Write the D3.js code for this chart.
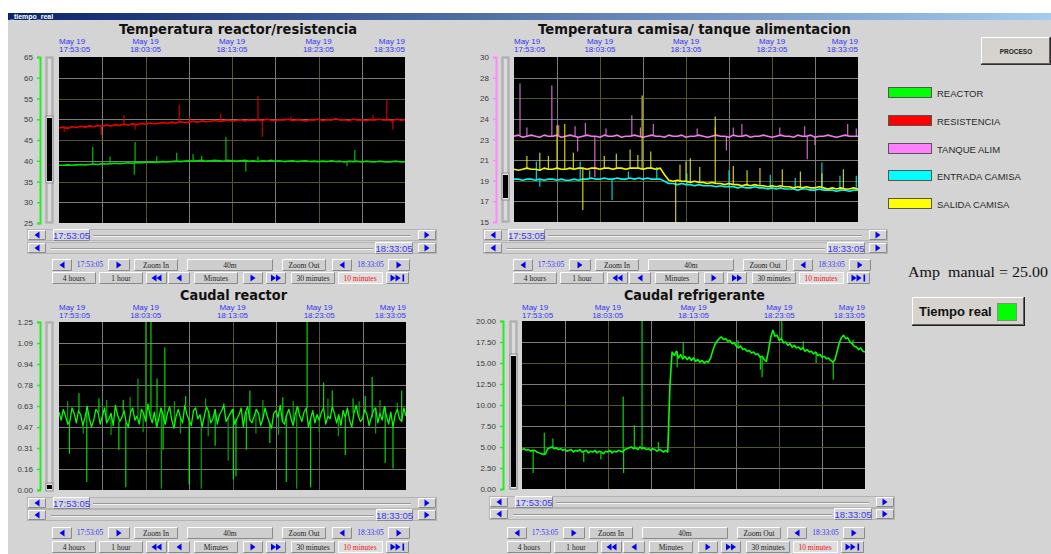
<!DOCTYPE html>
<html>
<head>
<meta charset="utf-8">
<title>tiempo_real</title>
<script src="https://cdn.jsdelivr.net/npm/d3@7"></script>
<style>
html, body { margin: 0; padding: 0; background: #fff; }
svg { display: block; }
</style>
</head>
<body>
<svg id="screen" width="1051" height="554"></svg>
<script>
"use strict";

// ---- data (minutes after 17:53:05) ----
var timeMinutes = [0, 10, 20, 30, 40];
var timeLabels = ["17:53:05", "18:03:05", "18:13:05", "18:23:05", "18:33:05"];
var dateLabel = "May 19";

// Temperatura reactor / resistencia, one sample every 0.5 min
var reactorTempTicks = ["65", "60", "55", "50", "45", "40", "35", "30", "25"];
var resistTemp = [
	47.9, 48.1, 47.8, 48.2, 48.0, 48.3, 48.1, 48.4, 48.2, 48.5, 48.3,
	48.6, 48.4, 48.7, 48.5, 48.8, 48.6, 48.9, 48.7, 49.0, 48.8,
	49.1, 48.9, 49.0, 49.2, 49.0, 49.3, 49.1, 49.4, 49.2, 49.3,
	49.5, 49.3, 49.6, 49.4, 49.5, 49.7, 49.5, 49.6, 49.8, 49.6,
	49.7, 49.9, 49.6, 49.8, 49.7, 49.9, 49.7, 50.0, 49.8, 49.7,
	49.9, 49.8, 50.0, 49.7, 49.9, 49.8, 49.6, 49.9, 49.8, 50.0,
	49.7, 49.9, 49.8, 50.1, 49.8, 49.9, 49.7, 50.0, 49.8, 49.9,
	49.7, 49.9, 49.8, 50.0, 49.8, 49.9, 49.7, 50.0, 49.8, 49.9
];
var reactorTemp = [
	38.9, 38.9, 39.0, 38.9, 39.0, 39.1, 39.0, 39.1, 39.2, 39.1, 39.3,
	39.2, 39.3, 39.4, 39.3, 39.4, 39.5, 39.4, 39.6, 39.5, 39.6,
	39.7, 39.6, 39.7, 39.8, 39.7, 39.8, 39.9, 39.8, 39.9, 40.0,
	39.9, 40.0, 40.1, 39.9, 40.0, 40.1, 40.0, 39.9, 40.1, 40.0,
	39.9, 40.0, 40.1, 39.9, 40.0, 39.8, 40.0, 39.9, 40.1, 39.9,
	40.0, 39.8, 39.9, 40.0, 39.8, 39.9, 40.0, 39.8, 39.9, 39.8,
	39.9, 39.8, 40.0, 39.8, 39.9, 39.7, 39.9, 39.8, 39.9, 39.7,
	39.9, 39.8, 39.7, 39.9, 39.8, 39.7, 39.8, 39.9, 39.7, 39.8
];
var resistSpikes = [[13.9, 53.5], [23.0, 55.6], [37.9, 54.6], [36.3, 51.0], [7.5, 51.0], [15.1, 50.8],
	[18.7, 51.3], [26.8, 50.7], [4.9, 46.2], [8.8, 47.5], [23.5, 45.8], [38.6, 47.5], [0.6, 47.0]];
var reactorSpikes = [[3.9, 43.3], [8.8, 44.5], [8.7, 36.6], [13.6, 41.9], [15.5, 41.6], [19.3, 45.7],
	[21.6, 37.4], [23.0, 41.0], [34.2, 42.6], [33.3, 38.7], [16.5, 41.2], [5.9, 41.0], [11.3, 41.1]];

// Temperatura camisa / tanque alimentacion
var jacketTicks = ["30", "28", "26", "24", "23", "21", "19", "17", "15"];
var feedTankTemp = [
	22.8, 22.9, 22.7, 22.8, 22.9, 22.8, 22.7, 22.9, 22.8, 22.8,
	22.9, 22.7, 22.8, 22.9, 22.8, 22.7, 22.8, 22.9, 22.8, 22.8,
	22.7, 22.9, 22.8, 22.8, 22.9, 22.7, 22.8, 22.8, 22.9, 22.8,
	22.7, 22.8, 22.9, 22.8, 22.8, 22.7, 22.9, 22.8, 22.8, 22.9,
	22.7, 22.8, 22.8, 22.9, 22.8, 22.7, 22.8, 22.9, 22.8, 22.8,
	22.7, 22.9, 22.8, 22.8, 22.9, 22.7, 22.8, 22.8, 22.9, 22.8,
	22.7, 22.8, 22.9, 22.8, 22.8, 22.7, 22.9, 22.8, 22.8, 22.9,
	22.7, 22.8, 22.8, 22.9, 22.8, 22.7, 22.8, 22.9, 22.8, 22.8, 22.8
];
var jacketInTemp = [
	18.9, 18.9, 18.8, 18.9, 18.9, 18.8, 18.9, 18.8, 18.9, 18.9,
	18.8, 18.9, 18.8, 18.8, 18.9, 18.8, 18.9, 18.9, 19.0, 18.9,
	18.9, 19.0, 18.9, 18.9, 19.0, 18.9, 18.9, 19.0, 18.9, 19.0,
	18.9, 19.0, 18.9, 18.9, 18.9, 18.7,
	18.5, 18.5, 18.4, 18.5,
	18.4, 18.4, 18.3, 18.4, 18.3, 18.3, 18.3, 18.2, 18.3, 18.2,
	18.2, 18.2, 18.1, 18.2, 18.1, 18.1, 18.2, 18.1, 18.1, 18.0,
	18.1, 18.0, 18.1, 18.0, 18.0, 18.0, 17.9, 18.0, 18.0, 17.9,
	17.9, 18.0, 17.9, 17.9, 17.9, 17.8, 17.9, 17.9, 17.8, 17.9, 17.9
];
var jacketOutTemp = [
	19.8, 19.7, 19.8, 19.9, 19.8, 19.8, 19.7, 19.9, 19.8, 19.8,
	19.9, 19.8, 19.8, 19.9, 19.8, 19.9, 19.9, 19.8, 19.9, 19.9,
	19.8, 19.9, 19.9, 19.8, 19.9, 19.9, 19.8, 19.9, 19.9, 19.9,
	19.8, 19.9, 19.9, 19.8, 19.9, 19.3,
	18.8, 18.7, 18.8, 18.7,
	18.7, 18.6, 18.7, 18.6, 18.6, 18.5, 18.6, 18.5, 18.5, 18.4,
	18.5, 18.4, 18.4, 18.3, 18.4, 18.3, 18.4, 18.3, 18.3, 18.2,
	18.3, 18.2, 18.3, 18.2, 18.2, 18.1, 18.2, 18.1, 18.2, 18.1,
	18.1, 18.2, 18.1, 18.0, 18.1, 18.0, 18.1, 18.0, 18.0, 18.1, 18.0
];
var feedTankSpikes = [[0.7, 27.6], [4.4, 27.4], [13.7, 24.7], [1.5, 23.6], [5.2, 23.8], [7.1, 23.7],
	[8.3, 24.0], [10.7, 23.5], [14.7, 23.6], [16.2, 23.9], [21.3, 23.5], [23.4, 23.6], [25.5, 23.6],
	[26.5, 23.9], [30.9, 23.6], [33.8, 23.7], [38.8, 23.9], [39.8, 23.5],
	[7.4, 21.4], [9.4, 19.1], [24.7, 21.5], [34.1, 20.7], [35.0, 22.0]];
var jacketInSpikes = [[2.6, 20.5], [3.0, 18.2], [7.7, 20.5], [8.8, 19.7], [11.4, 17.0], [13.3, 19.6],
	[16.6, 20.0], [20.1, 19.4], [25.0, 19.7], [29.8, 19.3], [32.7, 19.0], [35.8, 20.4], [37.9, 19.2], [39.8, 19.2]];
var jacketOutSpikes = [[5.0, 23.8], [5.9, 23.9], [14.9, 26.5], [23.4, 24.6], [8.0, 16.1], [18.8, 15.0],
	[1.5, 21.0], [3.0, 21.3], [4.0, 21.0], [6.9, 21.3], [10.5, 21.0], [11.9, 21.2], [13.5, 21.6],
	[14.4, 21.1], [15.9, 21.4], [19.3, 20.2], [20.0, 20.5], [20.5, 20.8], [21.6, 20.0], [25.5, 20.1],
	[27.1, 19.7], [28.6, 19.9], [31.2, 19.8], [33.3, 19.6], [35.8, 19.4], [38.3, 19.8]];

// Caudal reactor, one sample every 0.25 min
var reactorFlowTicks = ["1.25", "1.09", "0.94", "0.78", "0.63", "0.47", "0.31", "0.16", "0.00"];
var reactorFlow = [
	0.58, 0.52, 0.60, 0.55, 0.49, 0.51, 0.61, 0.57, 0.50, 0.59, 0.56, 0.48, 0.54, 0.62, 0.53, 0.47, 0.52, 0.60, 0.58, 0.49,
	0.55, 0.61, 0.50, 0.53, 0.57, 0.48, 0.63, 0.56, 0.51, 0.54, 0.59, 0.50, 0.47, 0.58, 0.61, 0.52, 0.55, 0.49, 0.60, 0.57,
	0.51, 0.64, 0.55, 0.50, 0.58, 0.47, 0.53, 0.61, 0.56, 0.49, 0.57, 0.62, 0.52, 0.46, 0.55, 0.60, 0.54, 0.50, 0.63, 0.56,
	0.52, 0.48, 0.59, 0.61, 0.53, 0.56, 0.47, 0.55, 0.62, 0.58, 0.50, 0.53, 0.60, 0.49, 0.56, 0.59, 0.63, 0.51, 0.54, 0.57,
	0.60, 0.49, 0.53, 0.56, 0.61, 0.47, 0.58, 0.62, 0.52, 0.50, 0.55, 0.60, 0.57, 0.48, 0.53, 0.61, 0.55, 0.50, 0.46, 0.57,
	0.59, 0.54, 0.63, 0.51, 0.49, 0.56, 0.60, 0.53, 0.48, 0.57, 0.62, 0.55, 0.51, 0.58, 0.61, 0.47, 0.53, 0.59, 0.50, 0.56,
	0.52, 0.58, 0.61, 0.49, 0.55, 0.53, 0.62, 0.57, 0.50, 0.56, 0.48, 0.59, 0.54, 0.61, 0.52, 0.47, 0.57, 0.63, 0.55, 0.51,
	0.53, 0.60, 0.56, 0.48, 0.54, 0.59, 0.61, 0.50, 0.57, 0.52, 0.62, 0.55, 0.49, 0.58, 0.47, 0.56, 0.60, 0.53, 0.51, 0.61,
	0.55
];
var reactorFlowSpikes = [[10.6, 1.25], [28.6, 1.25], [12.2, 1.06], [11.3, 0.83], [30.5, 0.80], [31.5, 0.74],
	[36.1, 0.84], [39.5, 0.74], [2.3, 0.72], [7.4, 0.67], [22.0, 0.74], [33.9, 0.68], [35.3, 0.70],
	[4.6, 0.68], [14.6, 0.70], [25.8, 0.69],
	[3.2, 0.06], [7.7, 0.02], [15.0, 0.04], [20.1, 0.08], [20.4, 0.10], [26.2, 0.06], [29.0, 0.02],
	[38.5, 0.16], [37.6, 0.20], [33.0, 0.26], [1.2, 0.27], [6.9, 0.30], [12.0, 0.30], [21.6, 0.30],
	[18.0, 0.33], [24.3, 0.35]];
var reactorFlowFaintSpikes = [[10.0, 1.25], [9.1, 0.83], [11.8, 0.01], [16.4, 0.01], [27.4, 0.01], [19.5, 0.22],
	[1.0, 0.66], [5.5, 0.67], [8.2, 0.69], [13.3, 0.66], [16.9, 0.68], [19.0, 0.65], [23.5, 0.67],
	[27.0, 0.66], [31.0, 0.68], [34.6, 0.66], [37.0, 0.67], [39.0, 0.65],
	[2.8, 0.42], [6.0, 0.41], [9.7, 0.43], [14.0, 0.42], [17.2, 0.40], [22.7, 0.42], [25.3, 0.41],
	[30.0, 0.43], [32.2, 0.40], [36.5, 0.42]];

// Caudal refrigerante, one sample every 0.25 min
var coolantFlowTicks = ["20.00", "17.50", "15.00", "12.50", "10.00", "7.50", "5.00", "2.50", "0.00"];
var coolantFlow = [
	4.7, 4.8, 4.6, 4.7, 4.5, 4.6, 4.6, 4.4, 4.3, 4.2,
	4.1, 4.2, 4.8, 4.9, 5.0, 4.8, 4.9, 4.7, 4.8, 4.6,
	4.7, 4.5, 4.6, 4.7, 4.4, 4.6, 4.5, 4.7, 4.4, 4.5,
	4.6, 4.3, 4.5, 4.4, 4.6, 4.3, 4.5, 4.4, 4.2, 4.5,
	4.4, 4.6, 4.3, 4.5, 4.4, 4.6, 4.5, 4.4, 4.7, 4.8,
	4.9, 5.0, 4.8, 4.9, 4.7, 5.0, 4.8, 4.9, 4.7, 4.8,
	4.6, 4.8, 4.7, 4.5, 4.7, 4.6, 4.4, 4.6, 4.4,
	12.3, 16.3,
	15.9, 16.4, 15.6, 16.0, 15.5, 15.8, 15.4, 15.7, 15.3,
	15.6, 15.2, 15.4, 15.1, 15.3, 15.0, 15.2, 15.1, 15.6, 16.5,
	17.2, 17.6, 17.9, 18.1, 17.8, 17.9, 17.6, 17.7, 17.3, 17.4,
	17.0, 16.8, 17.0, 16.6, 16.7, 16.4, 16.5, 16.2, 16.3, 16.0,
	16.1, 15.7, 15.8, 15.4, 15.2,
	16.5, 18.0, 18.9, 18.2, 18.3,
	17.7, 17.9, 17.4, 17.5, 17.1, 17.3, 16.9, 17.1, 16.8, 16.9,
	16.6, 16.8, 16.4, 16.6, 16.3, 16.4, 16.1, 16.3, 15.9, 16.0,
	15.7, 15.8, 15.5, 15.6, 15.3, 15.1, 15.4,
	16.4, 17.4, 18.0, 18.3,
	17.9, 18.0, 17.5, 17.3, 17.0, 16.9, 16.6, 16.8, 16.4, 16.3
];
var coolantFlowSpikes = [[14.0, 20.0], [11.8, 11.0], [11.85, 1.9], [13.1, 7.6], [2.6, 6.7], [3.6, 6.0],
	[1.3, 1.9], [7.2, 3.2], [9.2, 3.5], [15.9, 5.6], [18.1, 14.5], [18.8, 17.4], [25.2, 17.7],
	[27.8, 14.2], [28.0, 13.3], [30.3, 20.0], [36.3, 13.0], [38.6, 17.8], [32.8, 17.6], [34.3, 15.0]];

var legendNames = ["REACTOR", "RESISTENCIA", "TANQUE ALIM", "ENTRADA CAMISA", "SALIDA CAMISA"];

var Screen = (function(){
	var svg = null,
		BG = "#d4d4d4",
		SANS = "'Liberation Sans', Arial, sans-serif",
		SERIF = "'Liberation Serif', 'Times New Roman', serif",
		TITLE = "'DejaVu Sans', Verdana, sans-serif",
		BLUE = "#3434f4",
		GRID = "#7a7a7a",
		OLIVE = "#56561c";

	function init(el) {
		svg = d3.select("#" + el);
		frame();
		panel({
			title: "Temperatura reactor/resistencia", titleX: 119, titleW: 238, titleY: 34, timeY: 44,
			l: 59, r: 405, t: 57, b: 223, domain: [25, 65], ticks: reactorTempTicks,
			axisX: 40, axisColor: "#22ee22", sbX: 46, thumb: [118, 181],
			series: [
				{ values: resistTemp, step: 0.5, color: "#ee0000", width: 1.6, spikes: resistSpikes },
				{ values: reactorTemp, step: 0.5, color: "#00e000", width: 1.6, spikes: reactorSpikes }
			],
			rows: { x0: 27, x1: 437, y1: 229, y2: 242, box1: [53, 90], box2: [375, 413] },
			ctrl: { base: 51, y3: 259, y4: 272 }
		});
		panel({
			title: "Temperatura camisa/ tanque alimentacion", titleX: 538, titleW: 313, titleY: 34, timeY: 44,
			l: 514, r: 858, t: 57, b: 222, domain: [15, 30], ticks: jacketTicks,
			axisX: 496, axisColor: "#ff88ff", sbX: 502, thumb: [175, 198],
			series: [
				{ values: feedTankTemp, step: 0.5, color: "#ee7cee", width: 1.6, spikes: feedTankSpikes },
				{ values: jacketInTemp, step: 0.5, color: "#00f4f4", width: 1.6, spikes: jacketInSpikes },
				{ values: jacketOutTemp, step: 0.5, color: "#f4f400", width: 1.6, spikes: jacketOutSpikes }
			],
			rows: { x0: 483, x1: 888, y1: 229, y2: 242, box1: [508, 545], box2: [827, 865] },
			ctrl: { base: 512, y3: 259, y4: 272 }
		});
		panel({
			title: "Caudal reactor", titleX: 180, titleW: 107, titleY: 300, timeY: 310,
			l: 59, r: 406, t: 322, b: 490, domain: [0, 1.25], ticks: reactorFlowTicks,
			axisX: 40, axisColor: "#22ee22", sbX: 46, thumb: [485, 489],
			series: [
				{ values: reactorFlow, step: 0.25, color: "#00ff00", width: 1.3, spikes: reactorFlowSpikes, faint: reactorFlowFaintSpikes }
			],
			rows: { x0: 27, x1: 437, y1: 497, y2: 509, box1: [53, 90], box2: [376, 413] },
			ctrl: { base: 51, y3: 527, y4: 541 }
		});
		panel({
			title: "Caudal refrigerante", titleX: 624, titleW: 141, titleY: 300, timeY: 310,
			l: 522, r: 865, t: 321, b: 489, domain: [0, 20], ticks: coolantFlowTicks,
			axisX: 503, axisColor: "#22ee22", sbX: 510, thumb: [356, 487],
			series: [
				{ values: coolantFlow, step: 0.25, color: "#00ff00", width: 1.6, spikes: coolantFlowSpikes }
			],
			rows: { x0: 489, x1: 895, y1: 496, y2: 508, box1: [515, 553], box2: [834, 872] },
			ctrl: { base: 506, y3: 527, y4: 541 }
		});
		sidePanel();
	}

	function frame() {
		var defs = svg.append("defs");
		var grad = defs.append("linearGradient").attr("id", "bar");
		grad.append("stop").attr("offset", "0").attr("stop-color", "#0a246a");
		grad.append("stop").attr("offset", "1").attr("stop-color", "#a6caf0");
		svg.append("rect").attr("width", 1051).attr("height", 554).attr("fill", "#fff");
		svg.append("rect").attr("x", 8).attr("y", 20).attr("width", 1043).attr("height", 534).attr("fill", BG);
		svg.append("rect").attr("x", 8).attr("y", 13).attr("width", 1043).attr("height", 7).attr("fill", "url(#bar)");
		svg.append("text").attr("x", 10).attr("y", 19).attr("fill", "#fff")
			.style("font", "bold 7px " + SANS).text("_tiempo_real");
	}

	// raised 3d box like the old windows buttons
	function raised(g, x, y, w, h, fill, dark) {
		g.append("rect").attr("x", x).attr("y", y).attr("width", w).attr("height", h).attr("fill", fill || BG);
		g.append("path").attr("d", "M" + (x + 0.5) + "," + (y + h - 0.5) + "V" + (y + 0.5) + "H" + (x + w - 0.5))
			.attr("fill", "none").attr("stroke", "#fff");
		g.append("path").attr("d", "M" + (x + 0.5) + "," + (y + h - 0.5) + "H" + (x + w - 0.5) + "V" + (y + 0.5))
			.attr("fill", "none").attr("stroke", dark || "#8a8a8a");
	}

	function tri(g, cx, cy, dir) {
		var d = dir > 0 ?
			"M" + (cx - 2.5) + "," + (cy - 3.5) + "L" + (cx + 2.5) + "," + cy + "L" + (cx - 2.5) + "," + (cy + 3.5) + "Z" :
			"M" + (cx + 2.5) + "," + (cy - 3.5) + "L" + (cx - 2.5) + "," + cy + "L" + (cx + 2.5) + "," + (cy + 3.5) + "Z";
		g.append("path").attr("d", d).attr("fill", "#0000ee");
	}

	function panel(c) {
		var g = svg.append("g");
		var x = d3.scaleLinear().domain([0, 40]).range([c.l, c.r]);
		var y = d3.scaleLinear().domain(c.domain).range([c.b, c.t]);
		var n = c.ticks.length,
			tickVals = c.ticks.map(function(lab, k) {
				return c.domain[1] - k * (c.domain[1] - c.domain[0]) / (n - 1);
			});

		g.append("text").attr("x", c.titleX).attr("y", c.titleY)
			.attr("textLength", c.titleW).attr("lengthAdjust", "spacingAndGlyphs")
			.attr("fill", "#111").style("font", "bold 14px " + TITLE).text(c.title);

		timeMinutes.forEach(function(m, i) {
			var anchor = i === 0 ? "start" : (i === timeMinutes.length - 1 ? "end" : "middle");
			var t = g.append("text").attr("text-anchor", anchor).attr("fill", BLUE).style("font", "8px " + SANS);
			t.append("tspan").attr("x", x(m)).attr("y", c.timeY - 0.5).text(dateLabel);
			t.append("tspan").attr("x", x(m)).attr("y", c.timeY + 8).text(timeLabels[i]);
		});

		// plot area + grid
		g.append("rect").attr("x", c.l).attr("y", c.t).attr("width", c.r - c.l).attr("height", c.b - c.t).attr("fill", "#000");
		var clipId = "clip" + c.l + "_" + c.t;
		svg.select("defs").append("clipPath").attr("id", clipId)
			.append("rect").attr("x", c.l).attr("y", c.t).attr("width", c.r - c.l).attr("height", c.b - c.t);
		var plot = g.append("g").attr("clip-path", "url(#" + clipId + ")");

		plot.selectAll("line.vg").data(d3.range(5, 40, 5)).enter().append("line")
			.attr("x1", function(d) { return Math.round(x(d)) + 0.5; })
			.attr("x2", function(d) { return Math.round(x(d)) + 0.5; })
			.attr("y1", c.t).attr("y2", c.b)
			.attr("stroke", function(d) { return d % 10 === 0 ? OLIVE : GRID; });
		plot.selectAll("line.hg").data(tickVals.slice(1, n - 1)).enter().append("line")
			.attr("x1", c.l).attr("x2", c.r)
			.attr("y1", function(d) { return Math.round(y(d)) + 0.5; })
			.attr("y2", function(d) { return Math.round(y(d)) + 0.5; })
			.attr("stroke", function(d, k) { return k % 2 === 1 ? OLIVE : GRID; });

		c.series.forEach(function(s) {
			function base(t) {
				var i = Math.max(0, Math.min(s.values.length - 1, Math.round(t / s.step)));
				return s.values[i];
			}
			function spikeLines(data, color, op) {
				plot.append("g").selectAll("line").data(data).enter().append("line")
					.attr("x1", function(d) { return x(d[0]); })
					.attr("x2", function(d) { return x(d[0]); })
					.attr("y1", function(d) { return y(base(d[0])); })
					.attr("y2", function(d) { return y(d[1]); })
					.attr("stroke", color).attr("stroke-width", 1.2).attr("opacity", op);
			}
			if (s.faint) { spikeLines(s.faint, "#00a800", 1); }
			spikeLines(s.spikes, s.color, 0.85);
			var line = d3.line()
				.x(function(d, i) { return x(i * s.step); })
				.y(function(d) { return y(d); });
			plot.append("path").datum(s.values).attr("d", line)
				.attr("fill", "none").attr("stroke", s.color).attr("stroke-width", s.width)
				.attr("stroke-linejoin", "round");
		});

		// y axis
		var axis = d3.axisLeft(y).tickValues(tickVals)
			.tickFormat(function(d) { return c.ticks[tickVals.indexOf(d)]; })
			.tickSize(3).tickSizeOuter(3).tickPadding(4);
		var ag = g.append("g").attr("transform", "translate(" + c.axisX + ",0)").call(axis);
		ag.select(".domain").attr("stroke", c.axisColor).attr("stroke-width", 2);
		ag.selectAll(".tick line").attr("stroke", c.axisColor).attr("stroke-width", 1.5);
		ag.selectAll(".tick text").attr("fill", "#3a3a3a").style("font", "8px " + SANS);

		// vertical scroll bar
		g.append("rect").attr("x", c.sbX).attr("y", c.t).attr("width", 7).attr("height", c.b - c.t)
			.attr("fill", "#bcbcbc").attr("stroke", "#a4a4a4");
		g.append("rect").attr("x", c.sbX + 2).attr("y", c.t + 2).attr("width", 3).attr("height", c.b - c.t - 4)
			.attr("fill", "#dadada");
		g.append("rect").attr("x", c.sbX).attr("y", c.thumb[0] - 2).attr("width", 7).attr("height", c.thumb[1] - c.thumb[0] + 4)
			.attr("fill", "#e8e8e8").attr("stroke", "#8c8c8c");
		g.append("rect").attr("x", c.sbX + 1).attr("y", c.thumb[0]).attr("width", 5).attr("height", c.thumb[1] - c.thumb[0])
			.attr("fill", "#000");

		scrollRows(g, c.rows);
		controls(g, c.ctrl);
	}

	function scrollRows(g, r) {
		[r.y1, r.y2].forEach(function(ry, k) {
			var h = 11;
			g.append("rect").attr("x", r.x0 + 0.5).attr("y", ry + 0.5).attr("width", r.x1 - r.x0 - 1).attr("height", h)
				.attr("fill", "#d0d0d0").attr("stroke", "#b4b4b4");
			raised(g, r.x0 + 1, ry + 1, 18, h - 1);
			tri(g, r.x0 + 10, ry + 6, -1);
			raised(g, r.x1 - 19, ry + 1, 18, h - 1);
			tri(g, r.x1 - 10, ry + 6, 1);
			var box = k === 0 ? r.box1 : r.box2,
				gx0 = k === 0 ? box[1] + 3 : r.x0 + 24,
				gx1 = k === 0 ? r.x1 - 26 : box[0] - 2;
			g.append("line").attr("x1", gx0).attr("x2", gx1).attr("y1", ry + 6.5).attr("y2", ry + 6.5).attr("stroke", "#9a9a9a");
			g.append("line").attr("x1", gx0).attr("x2", gx1).attr("y1", ry + 7.5).attr("y2", ry + 7.5).attr("stroke", "#f2f2f2");
			raised(g, box[0], ry, box[1] - box[0], h + 1, "#d8d8d8");
			g.append("text").attr("x", (box[0] + box[1]) / 2).attr("y", ry + 9.5).attr("text-anchor", "middle")
				.attr("fill", BLUE).style("font", "9.5px " + SANS)
				.text(k === 0 ? timeLabels[0] : timeLabels[timeLabels.length - 1]);
		});
	}

	function controls(g, c) {
		var first = timeLabels[0], last = timeLabels[timeLabels.length - 1];
		var row3 = [
			{ a: 1, b: 21, arrows: [-1] },
			{ a: 26, b: 52, plain: first },
			{ a: 57, b: 79, arrows: [1] },
			{ a: 83, b: 127, label: "Zoom In" },
			{ a: 136, b: 222, label: "40m" },
			{ a: 231, b: 275, label: "Zoom Out" },
			{ a: 281, b: 301, arrows: [-1] },
			{ a: 307, b: 332, plain: last },
			{ a: 337, b: 359, arrows: [1] }
		];
		var row4 = [
			{ a: 1, b: 45, label: "4 hours" },
			{ a: 48, b: 92, label: "1 hour" },
			{ a: 95, b: 116, arrows: [-1, -1] },
			{ a: 117, b: 139, arrows: [-1] },
			{ a: 143, b: 187, label: "Minutes" },
			{ a: 192, b: 212, arrows: [1] },
			{ a: 215, b: 235, arrows: [1, 1] },
			{ a: 240, b: 284, label: "30 minutes" },
			{ a: 287, b: 331, label: "10 minutes", on: true },
			{ a: 335, b: 358, arrows: [1, 1], end: true }
		];
		[[row3, c.y3], [row4, c.y4]].forEach(function(row) {
			var ry = row[1], h = 11;
			row[0].forEach(function(b) {
				var bx = c.base + b.a, bw = b.b - b.a, cx = bx + bw / 2;
				if (b.plain) {
					g.append("text").attr("x", cx).attr("y", ry + 8).attr("text-anchor", "middle")
						.attr("fill", BLUE).style("font", "7.5px " + SERIF).text(b.plain);
					return;
				}
				if (b.on) {
					g.append("rect").attr("x", bx + 0.5).attr("y", ry + 0.5).attr("width", bw).attr("height", h)
						.attr("fill", "#dedede").attr("stroke", "#fafafa");
				} else {
					raised(g, bx, ry, bw, h + 1, "#cecece");
				}
				if (b.label) {
					g.append("text").attr("x", cx).attr("y", ry + 8.5).attr("text-anchor", "middle")
						.attr("fill", b.on ? "#ee1111" : "#222").style("font", "7.5px " + SERIF).text(b.label);
				}
				if (b.arrows) {
					var k = b.arrows.length, off = b.end ? -2 : 0;
					b.arrows.forEach(function(dir, j) {
						tri(g, cx + off + (j - (k - 1) / 2) * 5, ry + 6, dir);
					});
					if (b.end) {
						g.append("rect").attr("x", cx + 5).attr("y", ry + 2.5).attr("width", 1.6).attr("height", 7).attr("fill", "#0000ee");
					}
				}
			});
		});
	}

	function sidePanel() {
		var g = svg.append("g");
		var colors = ["#00ff00", "#ff0000", "#ff80ff", "#00ffff", "#ffff00"],
			rowY = [87, 115, 143, 170, 198];

		// PROCESO
		raised(g, 981, 37, 69, 27, "#d6d3ce", "#606060");
		g.append("line").attr("x1", 981).attr("x2", 1050).attr("y1", 64.5).attr("y2", 64.5).attr("stroke", "#303030");
		g.append("line").attr("x1", 1050.5).attr("x2", 1050.5).attr("y1", 37).attr("y2", 65).attr("stroke", "#303030");
		g.append("text").attr("x", 1016).attr("y", 53.5).attr("text-anchor", "middle").attr("fill", "#222")
			.style("font", "bold 6.5px " + SANS).text("PROCESO");

		g.selectAll("rect.leg").data(legendNames).enter().append("rect")
			.attr("x", 888.5).attr("y", function(d, i) { return rowY[i] + 0.5; })
			.attr("width", 43).attr("height", 10)
			.attr("fill", function(d, i) { return colors[i]; })
			.attr("stroke", "#555");
		g.selectAll("text.leg").data(legendNames).enter().append("text")
			.attr("x", 937).attr("y", function(d, i) { return rowY[i] + 9.5; })
			.attr("fill", "#2a2a2a").style("font", "9.5px " + SANS)
			.text(function(d) { return d; });

		g.append("text").attr("x", 908).attr("y", 277).attr("fill", "#111")
			.attr("textLength", 140).attr("lengthAdjust", "spacingAndGlyphs")
			.style("font", "15px " + SERIF).text("Amp\u00a0 manual = 25.00");

		// Tiempo real
		raised(g, 912, 297, 112, 28, "#d6d3ce", "#606060");
		g.append("line").attr("x1", 912).attr("x2", 1025).attr("y1", 325.5).attr("y2", 325.5).attr("stroke", "#202020");
		g.append("line").attr("x1", 1024.5).attr("x2", 1024.5).attr("y1", 297).attr("y2", 326).attr("stroke", "#202020");
		g.append("text").attr("x", 919).attr("y", 316).attr("fill", "#111")
			.style("font", "bold 13px " + SANS).text("Tiempo real");
		g.append("rect").attr("x", 997.5).attr("y", 303.5).attr("width", 19).attr("height", 17)
			.attr("fill", "#00ff00").attr("stroke", "#8a8a8a");
	}

	return {
		"init": init
	};
}());

Screen.init("screen");
</script>
</body>
</html>
